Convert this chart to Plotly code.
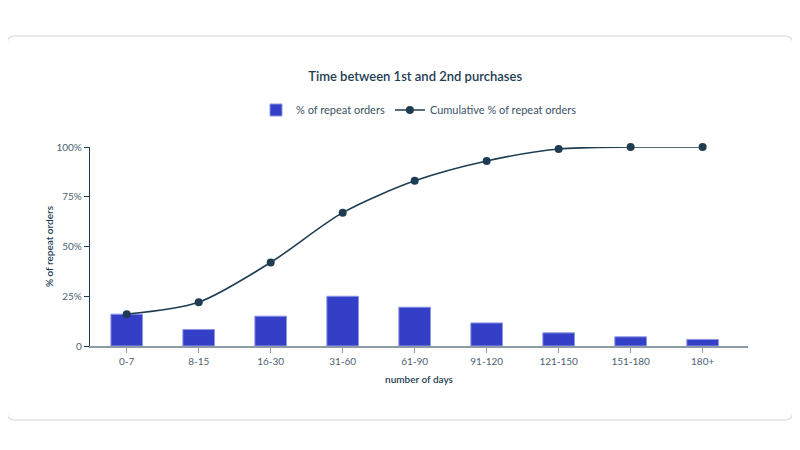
import plotly.graph_objects as go

days = ["0-7", "8-15", "16-30", "31-60", "61-90", "91-120", "121-150", "151-180", "180+"]
pct_orders = [16, 8.3, 15, 25, 19.5, 11.6, 6.6, 4.6, 3.3]
cum_pct = [16, 22, 42, 67, 83, 93, 99, 100, 100]

y_ticks = [0, 25, 50, 75, 100]
y_labels = ["0", "25%", "50%", "75%", "100%"]

dark = "#1e3d52"
tick_col = "#4d6272"
axis_col = "#8d9ba6"
font_fam = "Lato, 'Open Sans', sans-serif"

fig = go.Figure()

fig.add_trace(go.Bar(
    x=days, y=pct_orders,
    name="% of repeat orders",
    width=0.44,
    marker=dict(color="#323fc6", line=dict(color="#8e96e6", width=1)),
))

fig.add_trace(go.Scatter(
    x=days, y=cum_pct,
    name="Cumulative % of repeat orders",
    mode="lines+markers",
    line=dict(color=dark, width=1.6, shape="spline", smoothing=0.8),
    marker=dict(color=dark, size=8),
    cliponaxis=False,
))

# card behind the chart, in paper coords (plot area is 658 x 199 px)
x0, x1, y0, y1 = -0.126, 1.068, -0.372, 1.558
rx, ry = 0.012, 0.04
card = (f"M {x0+rx},{y1} L {x1-rx},{y1} Q {x1},{y1} {x1},{y1-ry} "
        f"L {x1},{y0+ry} Q {x1},{y0} {x1-rx},{y0} "
        f"L {x0+rx},{y0} Q {x0},{y0} {x0},{y0+ry} "
        f"L {x0},{y1-ry} Q {x0},{y1} {x0+rx},{y1} Z")

fig.update_layout(
    width=800, height=450,
    margin=dict(l=82, r=60, t=139, b=112),
    paper_bgcolor="white",
    plot_bgcolor="rgba(0,0,0,0)",
    font=dict(family=font_fam, color=tick_col, size=10),
    showlegend=True,
    title=dict(
        text="Time between 1st and 2nd purchases",
        x=0.509, xref="container", xanchor="center",
        y=0.847, yref="container", yanchor="middle",
        font=dict(size=13, color=dark, family=font_fam, weight=600),
    ),
    legend=dict(
        orientation="h", x=0.5, xanchor="center",
        y=1.186, yanchor="middle",
        bgcolor="rgba(0,0,0,0)",
        font=dict(size=11, color="#3a5366"),
        itemwidth=30,
    ),
    bargap=0.5,
    shapes=[dict(
        type="path", path=card, xref="paper", yref="paper",
        fillcolor="white", line=dict(color="#e4e4e4", width=1.5),
        layer="below",
    )],
    xaxis=dict(
        range=[-0.51, 8.63],
        showgrid=False, zeroline=False,
        showline=True, linecolor=axis_col, linewidth=1.5,
        ticks="outside", ticklen=5, tickcolor=axis_col,
        tickfont=dict(size=10, color=tick_col),
        title=dict(text="number of days", standoff=10,
                   font=dict(size=10, color=dark, weight=600)),
    ),
    yaxis=dict(
        range=[0, 100],
        tickvals=y_ticks, ticktext=y_labels,
        showgrid=False, zeroline=False,
        showline=True, linecolor=dark, linewidth=1.2,
        ticks="outside", ticklen=5, tickcolor=dark,
        tickfont=dict(size=10, color=tick_col),
        title=dict(text="% of repeat orders", standoff=0,
                   font=dict(size=10, color=dark, weight=600)),
    ),
)

fig.write_html("out.html")
